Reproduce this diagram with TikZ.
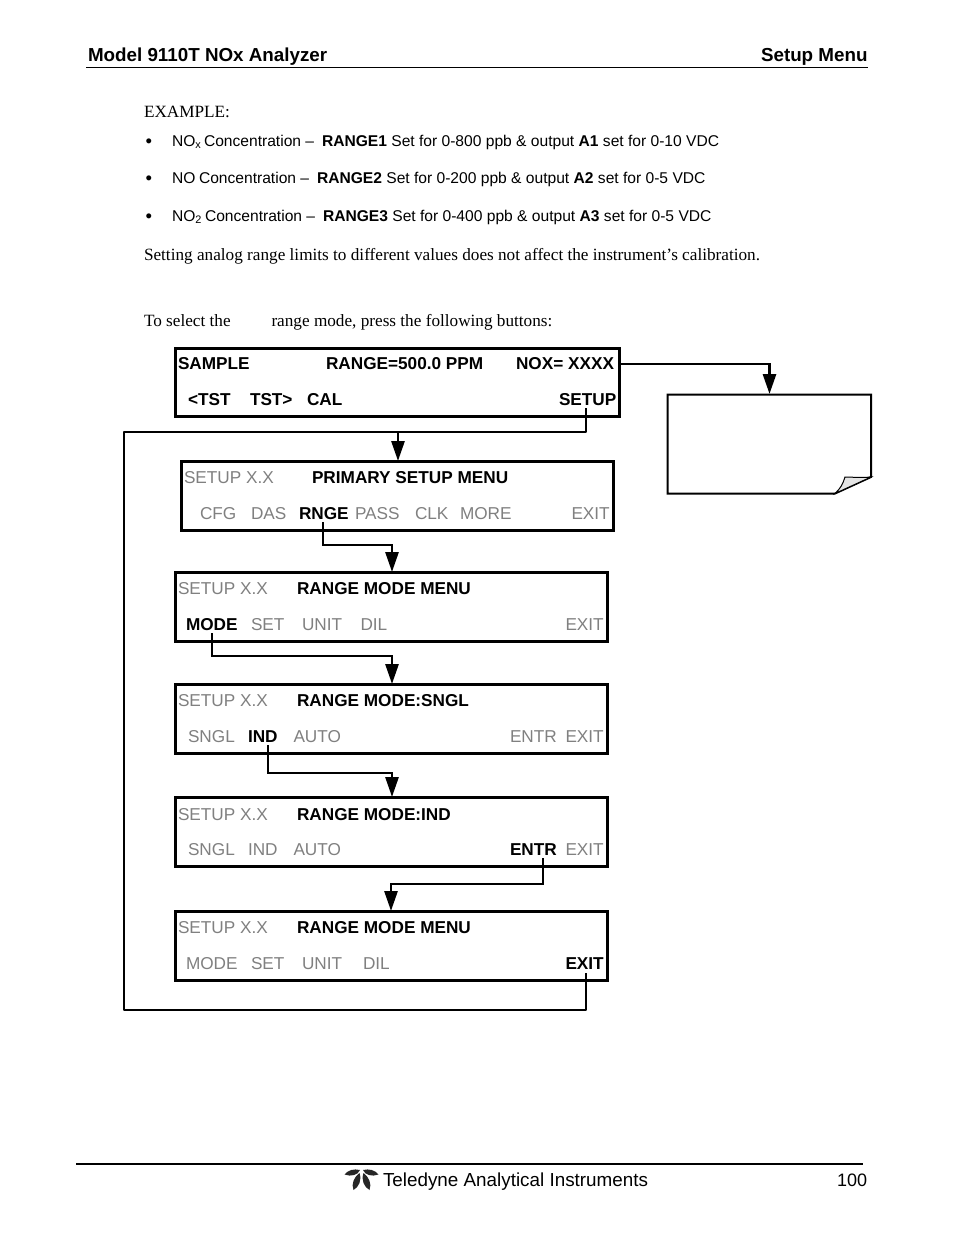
\documentclass[tikz,border=0pt]{standalone}
\usepackage{fontspec}
\setmainfont{Liberation Serif}
\setsansfont{Liberation Sans}
\usetikzlibrary{arrows.meta}
\definecolor{dim}{HTML}{808080}
\tikzset{
  x=1pt,y=-1pt,
  lbl/.style={anchor=base west,inner sep=0pt,outer sep=0pt,font=\fontsize{17.2}{18}\selectfont\sffamily,text=black},
  on/.style={lbl,font=\fontsize{17.2}{18}\selectfont\sffamily\bfseries},
  off/.style={lbl,text=dim},
  head/.style={lbl,font=\fontsize{18.8}{20}\selectfont\sffamily\bfseries},
  body/.style={lbl,font=\fontsize{17.2}{18}\selectfont\rmfamily},
  bul/.style={lbl,font=\fontsize{15.6}{18}\selectfont\sffamily},
  dot/.style={lbl,font=\fontsize{18.5}{18}\selectfont\sffamily},
  screen/.style={draw=black,line width=3pt,anchor=north west,inner sep=0pt,outer sep=0pt,fill=white},
  flow/.style={draw=black,line width=2.8pt},
  tip/.style={flow,-{Triangle[length=20pt,width=13pt]}},
  rule/.style={draw=black}
}
\begin{document}
\begin{tikzpicture}
\useasboundingbox (0,0) rectangle (954,1235);
% header
\node[head] (h1) at (88,61) {Model 9110T NOx Analyzer};
\node[head] (h2) at (761,61) {Setup Menu};
\coordinate (r1a) at (86,67.5); \coordinate (r1b) at (868,67.5);
\draw[rule,line width=1pt] (r1a) -- (r1b);
% text
\node[body] (t0) at (144,117) {EXAMPLE:};
\node[dot] (d1) at (145.5,147) {•};
\node[bul] (a1) at (172,146) {NO\textsubscript{x}};
\node[bul] (a1b) at (204,146) {Concentration –};
\node[bul] (a2) at (322,146) {\textbf{RANGE1} Set for 0-800 ppb \& output \textbf{A1} set for 0-10 VDC};
\node[dot] (d2) at (145.5,184) {•};
\node[bul] (b1) at (172,183) {NO};
\node[bul] (b1b) at (199,183) {Concentration –};
\node[bul] (b2) at (317,183) {\textbf{RANGE2} Set for 0-200 ppb \& output \textbf{A2} set for 0-5 VDC};
\node[dot] (d3) at (145.5,222) {•};
\node[bul] (c1) at (172,221) {NO\textsubscript{2}};
\node[bul] (c1b) at (205,221) {Concentration –};
\node[bul] (c2) at (323,221) {\textbf{RANGE3} Set for 0-400 ppb \& output \textbf{A3} set for 0-5 VDC};
\node[body] (t1) at (144,260) {Setting analog range limits to different values does not affect the instrument’s calibration.};
\node[body] (t2) at (144,326) {To select the};
\node[body] (t3) at (271.5,326) {range mode, press the following buttons:};
% screens
\node[screen,minimum width=444pt,minimum height=68pt] (s0) at (175,348) {};
\node[screen,minimum width=432pt,minimum height=69pt] (s1) at (181,461) {};
\node[screen,minimum width=432pt,minimum height=69pt] (s2) at (175,572) {};
\node[screen,minimum width=432pt,minimum height=69pt] (s3) at (175,684) {};
\node[screen,minimum width=432pt,minimum height=69pt] (s4) at (175,797) {};
\node[screen,minimum width=432pt,minimum height=69pt] (s5) at (175,911) {};
% screen 0
\node[on] (s0a) at (178,369) {SAMPLE};
\node[on] (s0b) at (326,369) {RANGE=500.0 PPM};
\node[on] (s0c) at (516,369) {NOX= XXXX};
\node[on] (s0d) at (188,405) {<TST};
\node[on] (s0e) at (250,405) {TST>};
\node[on] (s0f) at (307,405) {CAL};
\node[on] (setup) at (559,405) {SETUP};
% screen 1
\node[off] (s1a) at (184,483) {SETUP X.X};
\node[on] (s1b) at (312,483) {PRIMARY SETUP MENU};
\node[off] (s1c) at (200,519) {CFG};
\node[off] (s1d) at (251,519) {DAS};
\node[on] (rnge) at (299,519) {RNGE};
\node[off] (s1e) at (355,519) {PASS};
\node[off] (s1f) at (415,519) {CLK};
\node[off] (s1g) at (460,519) {MORE};
\node[off] (s1h) at (571.5,519) {EXIT};
% screen 2
\node[off] (s2a) at (178,594) {SETUP X.X};
\node[on] (s2b) at (297,594) {RANGE MODE MENU};
\node[on] (mode) at (186,630) {MODE};
\node[off] (s2c) at (251,630) {SET};
\node[off] (s2d) at (302,630) {UNIT};
\node[off] (s2e) at (360.5,630) {DIL};
\node[off] (s2f) at (565.5,630) {EXIT};
% screen 3
\node[off] (s3a) at (178,706) {SETUP X.X};
\node[on] (s3b) at (297,706) {RANGE MODE:SNGL};
\node[off] (s3c) at (188,742) {SNGL};
\node[on] (ind) at (248,742) {IND};
\node[off] (s3d) at (293.5,742) {AUTO};
\node[off] (s3e) at (510,742) {ENTR};
\node[off] (s3f) at (565.5,742) {EXIT};
% screen 4
\node[off] (s4a) at (178,820) {SETUP X.X};
\node[on] (s4b) at (297,820) {RANGE MODE:IND};
\node[off] (s4c) at (188,855) {SNGL};
\node[off] (s4d) at (248,855) {IND};
\node[off] (s4e) at (293.5,855) {AUTO};
\node[on] (entr) at (510,855) {ENTR};
\node[off] (s4f) at (565.5,855) {EXIT};
% screen 5
\node[off] (s5a) at (178,933) {SETUP X.X};
\node[on] (s5b) at (297,933) {RANGE MODE MENU};
\node[off] (s5c) at (186,969) {MODE};
\node[off] (s5d) at (251,969) {SET};
\node[off] (s5e) at (302,969) {UNIT};
\node[off] (s5f) at (363,969) {DIL};
\node[on] (exit) at (565.5,969) {EXIT};
% note
\draw[line width=2pt,fill=white] (667.5,394.5) -- (871,394.5) -- (871,477) -- (835,493.5) -- (667.5,493.5) -- cycle;
\draw[line width=1pt,fill=black!10] (871,477) .. controls (860,478) and (852,477) .. (845,477) .. controls (843,484) and (840,489) .. (835,493.5) -- cycle;
\coordinate (noteTop) at (769.5,394);
% connectors
\coordinate (j0) at (769.5,364);
\coordinate (s0r) at (619,364);
\draw[tip] (s0r) -- (j0) -- (noteTop);
\coordinate (loopTop) at (124,432);
\coordinate (loopBot) at (124,1010);
\coordinate (split) at (398,432);
\coordinate (setupA) at (586,408);
\coordinate (exitA) at (586,973);
\coordinate (s1in) at (398,461);
\draw[flow,line join=round] (setupA) |- (loopTop) -- (loopBot) -| (exitA);
\draw[tip] (split) -- (s1in);
\coordinate (j1) at (392,545); \coordinate (s2in) at (392,572); \coordinate (rngeA) at (323,522);
\draw[tip] (rngeA) |- (j1) -- (s2in);
\coordinate (j2) at (392,656); \coordinate (s3in) at (392,684); \coordinate (modeA) at (212,633);
\draw[tip] (modeA) |- (j2) -- (s3in);
\coordinate (j3) at (392,773); \coordinate (s4in) at (392,797); \coordinate (indA) at (268,745);
\draw[tip] (indA) |- (j3) -- (s4in);
\coordinate (j4) at (391,884); \coordinate (s5in) at (391,911); \coordinate (entrA) at (543,858);
\draw[tip] (entrA) |- (j4) -- (s5in);
% footer
\coordinate (r2a) at (76,1163.5); \coordinate (r2b) at (863,1163.5);
\draw[rule,line width=2pt] (r2a) -- (r2b);
\fill[black!85] (344.5,1174.5) .. controls (348,1170) and (354,1168.5) .. (360,1170) .. controls (358,1175) and (351,1177) .. (344.5,1174.5) -- cycle;
\fill[black!85] (378.5,1174.5) .. controls (375,1170) and (369,1168.5) .. (363,1170) .. controls (365,1175) and (372,1177) .. (378.5,1174.5) -- cycle;
\fill[black!85] (359.5,1173) .. controls (354,1177) and (351,1184) .. (353.5,1190) .. controls (359,1187) and (362,1180) .. (359.5,1173) -- cycle;
\fill[black!85] (363.5,1173) .. controls (369,1177) and (372,1184) .. (369.5,1190) .. controls (364,1187) and (361,1180) .. (363.5,1173) -- cycle;
\node[lbl,font=\fontsize{18.85}{20}\selectfont\sffamily] (f1) at (383,1186) {Teledyne Analytical Instruments};
\node[lbl,font=\fontsize{18}{20}\selectfont\sffamily] (f2) at (837,1186) {100};
\end{tikzpicture}
\end{document}
